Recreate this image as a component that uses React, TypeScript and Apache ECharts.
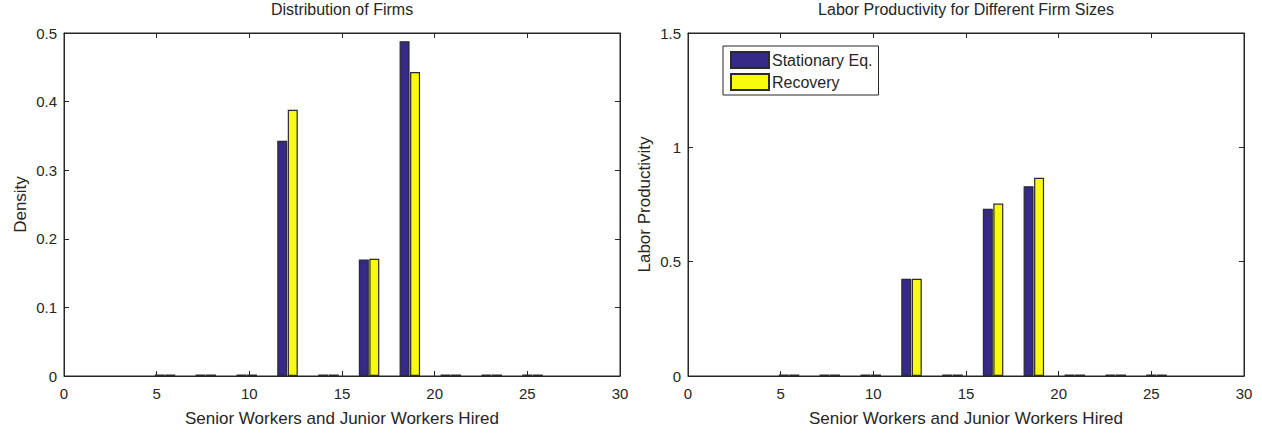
import React, { useEffect, useRef } from "react";
import * as echarts from "echarts";

const firmSizes = [5.45, 7.65, 9.86, 12.06, 14.27, 16.46, 18.66, 20.87, 23.08, 25.28];
const densityStationary = [0, 0, 0, 0.343, 0, 0.17, 0.488, 0, 0, 0];
const densityRecovery = [0, 0, 0, 0.388, 0, 0.171, 0.443, 0, 0, 0];
const productivityStationary = [0, 0, 0, 0.425, 0, 0.731, 0.83, 0, 0, 0];
const productivityRecovery = [0, 0, 0, 0.425, 0, 0.754, 0.867, 0, 0, 0];
const seriesNames = ["Stationary Eq.", "Recovery"];
const titles = ["Distribution of Firms", "Labor Productivity for Different Firm Sizes"];
const xName = "Senior Workers and Junior Workers Hired";
const yNames = ["Density", "Labor Productivity"];

const FONT = "'Liberation Sans', Arial, Helvetica, sans-serif";
const INK = "#262626";
const BLUE = "#352A87";
const YELLOW = "#F9FB0E";

export default function App() {
  const ref = useRef<HTMLDivElement>(null);
  useEffect(() => {
    if (!ref.current) return;
    const chart = echarts.init(ref.current, undefined, { renderer: "svg" });
    const grids = [
      { left: 64, top: 33, width: 556, bottom: 57 },
      { left: 688, top: 33, width: 556, bottom: 57 },
    ];
    const yRanges = [
      { max: 0.5, interval: 0.1 },
      { max: 1.5, interval: 0.5 },
    ];
    const xAxes: any[] = [];
    const yAxes: any[] = [];
    grids.forEach((g, i) => {
      xAxes.push({
        type: "value",
        gridIndex: i,
        min: 0,
        max: 30,
        interval: 5,
        position: "bottom",
        name: xName,
        nameLocation: "middle",
        nameGap: 34,
        nameTextStyle: { fontFamily: FONT, fontSize: 17, color: INK },
        axisLine: { show: true, onZero: false, lineStyle: { color: INK, width: 1 } },
        axisTick: { show: true, inside: true, length: 5, lineStyle: { color: INK } },
        axisLabel: { fontFamily: FONT, fontSize: 15, color: INK, margin: 10 },
        splitLine: { show: false },
      });
      xAxes.push({
        type: "value",
        gridIndex: i,
        min: 0,
        max: 30,
        interval: 5,
        position: "top",
        axisLine: { show: true, onZero: false, lineStyle: { color: INK, width: 1 } },
        axisTick: { show: true, inside: true, length: 5, lineStyle: { color: INK } },
        axisLabel: { show: false },
        splitLine: { show: false },
      });
      yAxes.push({
        type: "value",
        gridIndex: i,
        min: 0,
        max: yRanges[i].max,
        interval: yRanges[i].interval,
        position: "left",
        name: yNames[i],
        nameLocation: "middle",
        nameGap: 35,
        nameTextStyle: { fontFamily: FONT, fontSize: 17, color: INK },
        axisLine: { show: true, onZero: false, lineStyle: { color: INK, width: 1 } },
        axisTick: { show: true, inside: true, length: 5, lineStyle: { color: INK } },
        axisLabel: { fontFamily: FONT, fontSize: 15, color: INK, margin: 7 },
        splitLine: { show: false },
      });
      yAxes.push({
        type: "value",
        gridIndex: i,
        min: 0,
        max: yRanges[i].max,
        interval: yRanges[i].interval,
        position: "right",
        axisLine: { show: true, onZero: false, lineStyle: { color: INK, width: 1 } },
        axisTick: { show: true, inside: true, length: 5, lineStyle: { color: INK } },
        axisLabel: { show: false },
        splitLine: { show: false },
      });
    });
    const mk = (name: string, vals: number[], gi: number, color: string) => ({
      type: "bar",
      name,
      xAxisIndex: gi * 2,
      yAxisIndex: gi * 2,
      data: firmSizes.map((x, k) => [x, vals[k]]),
      barWidth: 10,
      barGap: "5%",
      barMinHeight: 1.5,
      itemStyle: { color, borderColor: "#2b2b2b", borderWidth: 1.2 },
      emphasis: { disabled: true },
    });
    chart.setOption({
      animation: false,
      backgroundColor: "#ffffff",
      title: [
        {
          text: titles[0],
          left: 342,
          top: 1,
          textAlign: "center",
          padding: 0,
          textStyle: { fontFamily: FONT, fontSize: 16, fontWeight: "normal", color: INK },
        },
        {
          text: titles[1],
          left: 966,
          top: 1,
          textAlign: "center",
          padding: 0,
          textStyle: { fontFamily: FONT, fontSize: 16, fontWeight: "normal", color: INK },
        },
      ],
      legend: {
        data: seriesNames,
        orient: "vertical",
        left: 723,
        top: 46,
        padding: [5, 6, 4, 7],
        itemWidth: 38,
        itemHeight: 16,
        itemGap: 4,
        icon: "rect",
        borderColor: INK,
        borderWidth: 1,
        backgroundColor: "#ffffff",
        textStyle: { fontFamily: FONT, fontSize: 16, color: INK, padding: [0, 0, 0, -2] },
      },
      grid: grids.map((g) => ({ ...g, show: true, borderColor: INK, borderWidth: 1, backgroundColor: "transparent" })),
      xAxis: xAxes,
      yAxis: yAxes,
      series: [
        mk(seriesNames[0], densityStationary, 0, BLUE),
        mk(seriesNames[1], densityRecovery, 0, YELLOW),
        mk(seriesNames[0], productivityStationary, 1, BLUE),
        mk(seriesNames[1], productivityRecovery, 1, YELLOW),
      ],
    });
    return () => chart.dispose();
  }, []);
  return (
    <div
      ref={ref}
      style={{ position: "absolute", left: 0, top: 0, width: 1262, height: 433, background: "#fff" }}
    />
  );
}
